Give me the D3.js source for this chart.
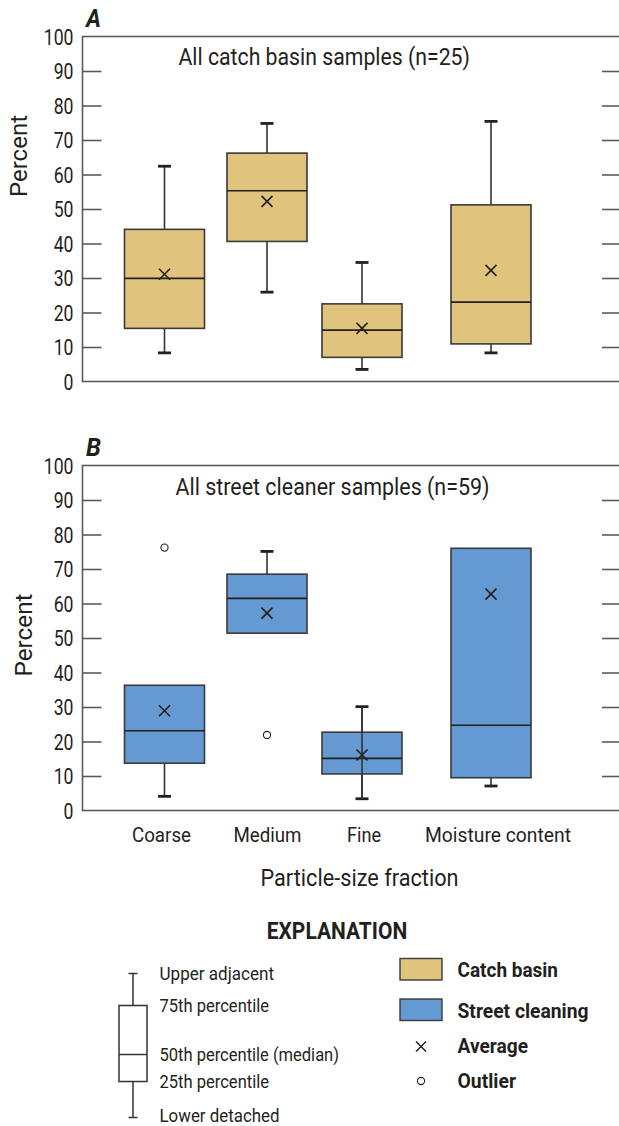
<!DOCTYPE html>
<html><head><meta charset="utf-8">
<script src="https://cdn.jsdelivr.net/npm/d3@7"></script>
<style>
html,body{margin:0;padding:0;background:#fff;}
svg{display:block;}
text{font-family:"Liberation Sans Narrow","Arial Narrow","Roboto",sans-serif;fill:#231f20;}
</style></head>
<body>
<svg id="c" width="619" height="1126"></svg>
<script>
// ---- data ----
const categories = ["Coarse", "Medium", "Fine", "Moisture content"];
const yTicks = [0, 10, 20, 30, 40, 50, 60, 70, 80, 90, 100];

// Panel A: catch basin
const catchLower  = [8.3, 25.9, 3.5, 8.3];
const catchQ1     = [15.4, 40.6, 7.0, 10.9];
const catchMedian = [29.9, 55.3, 14.9, 23.0];
const catchQ3     = [44.1, 66.2, 22.5, 51.2];
const catchUpper  = [62.4, 74.8, 34.5, 75.4];
const catchMean   = [31.1, 52.2, 15.4, 32.2];
const catchOutliers = [[], [], [], []];

// Panel B: street cleaner
const streetLower  = [4.1, null, 3.4, 7.1];
const streetQ1     = [13.7, 51.4, 10.6, 9.5];
const streetMedian = [23.1, 61.5, 15.1, 24.7];
const streetQ3     = [36.3, 68.5, 22.7, 76.0];
const streetUpper  = [null, 75.1, 30.1, null];
const streetMean   = [28.9, 57.2, 16.1, 62.7];
const streetOutliers = [[76.2], [21.9], [], []];

const panelTitles = ["All catch basin samples (n=25)", "All street cleaner samples (n=59)"];
const panelLetters = ["A", "B"];
const legendBoxLabels = ["Upper adjacent", "75th percentile", "50th percentile (median)", "25th percentile", "Lower detached"];
const legendKeyLabels = ["Catch basin", "Street cleaning", "Average", "Outlier"];

// ---- layout ----
const colors = {catch: "#e0c47e", street: "#6499d2"};
const svg = d3.select("#c");
const left = 82.5, right = 620;
const x = d3.scaleOrdinal().domain(categories).range([164.5, 267, 362, 491]);
const boxW = 80, capW = 13;
const labelShift = {"Coarse": -3, "Medium": 0.5, "Fine": 2, "Moisture content": 7};
const labelWidth = {"Coarse": 59, "Medium": 68, "Fine": 34, "Moisture content": 146};

function buildRows(lo, q1, med, q3, up, mean, outl){
  return categories.map((c,i)=>({cat:c, lo:lo[i], q1:q1[i], med:med[i], q3:q3[i], up:up[i], mean:mean[i], out:outl[i]}));
}

const panels = [
  {top: 36.5, bottom: 381.5, rows: buildRows(catchLower, catchQ1, catchMedian, catchQ3, catchUpper, catchMean, catchOutliers), fill: colors.catch, title: panelTitles[0], letter: panelLetters[0], titleX: 324.2, titleW: 291.5, titleY: 65, letterY: 27, pctY: 156, pctX: 27, pctW: 82},
  {top: 465.5, bottom: 810.5, rows: buildRows(streetLower, streetQ1, streetMedian, streetQ3, streetUpper, streetMean, streetOutliers), fill: colors.street, title: panelTitles[1], letter: panelLetters[1], titleX: 332.5, titleW: 314, titleY: 495, letterY: 456, pctY: 635, pctX: 31.5, pctW: 83}
];

const tickSx = 0.8;

panels.forEach(p => {
  const y = d3.scaleLinear().domain([0,100]).range([p.bottom, p.top]);
  const g = svg.append("g");

  // frame
  g.append("rect").attr("x", left).attr("y", y(100)).attr("width", right-left).attr("height", y(0)-y(100))
    .attr("fill","none").attr("stroke","#5a5a5a").attr("stroke-width",1.6);

  // left axis
  const ax = g.append("g").attr("transform",`translate(${left},0)`)
    .call(d3.axisLeft(y).tickValues(yTicks).tickSize(-19).tickPadding(9));
  ax.select(".domain").remove();
  ax.selectAll(".tick line").attr("stroke","#5a5a5a").attr("stroke-width",1.6)
    .attr("display", d => (d===0||d===100)?"none":null);
  ax.selectAll(".tick text").attr("font-size",22).attr("font-family",null).attr("fill","#231f20")
    .attr("x", -9/tickSx).attr("transform", `scale(${tickSx},1)`).attr("dy","0.35em");

  // right axis ticks
  const ax2 = g.append("g").attr("transform",`translate(619,0)`)
    .call(d3.axisRight(y).tickValues(yTicks.filter(d=>d>0&&d<100)).tickSize(-17).tickFormat(""));
  ax2.select(".domain").remove();
  ax2.selectAll(".tick line").attr("stroke","#5a5a5a").attr("stroke-width",1.6);

  const rows = p.rows;
  rows.forEach((r, i) => {
    const cx = x(r.cat);
    const wg = g.append("g");
    if (r.up != null) {
      wg.append("line").attr("x1",cx).attr("x2",cx).attr("y1",y(r.up)).attr("y2",y(r.q3)).attr("stroke","#333").attr("stroke-width",1.6);
      wg.append("line").attr("x1",cx-capW/2).attr("x2",cx+capW/2).attr("y1",y(r.up)).attr("y2",y(r.up)).attr("stroke","#231f20").attr("stroke-width",2.8);
    }
    if (r.lo != null) {
      wg.append("line").attr("x1",cx).attr("x2",cx).attr("y1",y(r.q1)).attr("y2",y(r.lo)).attr("stroke","#333").attr("stroke-width",1.6);
      wg.append("line").attr("x1",cx-capW/2).attr("x2",cx+capW/2).attr("y1",y(r.lo)).attr("y2",y(r.lo)).attr("stroke","#231f20").attr("stroke-width",2.8);
    }
    // box
    g.append("rect").attr("x",cx-boxW/2).attr("y",y(r.q3)).attr("width",boxW).attr("height",y(r.q1)-y(r.q3))
      .attr("fill",p.fill).attr("stroke","#3a3a3a").attr("stroke-width",1.6);
    g.append("line").attr("x1",cx-boxW/2).attr("x2",cx+boxW/2).attr("y1",y(r.med)).attr("y2",y(r.med))
      .attr("stroke","#231f20").attr("stroke-width",1.6);
    // whisker drawn through the box for street-cleaner Fine (as in original)
    if (p.letter==="B" && r.cat==="Fine") {
      g.append("line").attr("x1",cx).attr("x2",cx).attr("y1",y(r.up)).attr("y2",y(r.lo)).attr("stroke","#333").attr("stroke-width",1.6);
    }
    // mean
    const m = 5.5, my = y(r.mean);
    g.append("path").attr("d",`M${cx-m},${my-m}L${cx+m},${my+m}M${cx-m},${my+m}L${cx+m},${my-m}`)
      .attr("stroke","#231f20").attr("stroke-width",1.6);
    // outliers
    r.out.forEach(v => {
      g.append("circle").attr("cx",cx).attr("cy",y(v)).attr("r",3.6).attr("fill","#fff").attr("stroke","#231f20").attr("stroke-width",1.1);
    });
  });

  // title
  g.append("text").attr("x",p.titleX).attr("y",p.titleY).attr("text-anchor","middle").attr("font-size",23)
    .attr("textLength",p.titleW).attr("lengthAdjust","spacingAndGlyphs").text(p.title);
  g.append("text").attr("x",86).attr("y",p.letterY).attr("font-size",25).attr("font-weight","bold").attr("font-style","italic")
    .attr("textLength",15).attr("lengthAdjust","spacingAndGlyphs").text(p.letter);
  g.append("text").attr("transform",`translate(${p.pctX},${p.pctY}) rotate(-90)`).attr("text-anchor","middle").attr("font-size",24)
    .attr("textLength",p.pctW).attr("lengthAdjust","spacingAndGlyphs").text("Percent");
});

// x labels
svg.append("g").selectAll("text").data(categories).join("text")
  .attr("x", d => x(d) + labelShift[d]).attr("y",842).attr("text-anchor","middle").attr("font-size",21)
  .attr("textLength", d => labelWidth[d]).attr("lengthAdjust","spacingAndGlyphs").text(d=>d);
svg.append("text").attr("x",359.5).attr("y",886).attr("text-anchor","middle").attr("font-size",23.5)
  .attr("textLength",198).attr("lengthAdjust","spacingAndGlyphs").text("Particle-size fraction");

// Explanation
svg.append("text").attr("x",337).attr("y",938.5).attr("text-anchor","middle").attr("font-size",23).attr("font-weight","bold")
  .attr("textLength",140.5).attr("lengthAdjust","spacingAndGlyphs").text("EXPLANATION");

// legend box diagram
const lg = svg.append("g");
const lcx = 133;
const lyUp = 973.5, lyQ3 = 1005.5, lyMed = 1054.5, lyQ1 = 1081.5, lyLo = 1117.5;
lg.append("line").attr("x1",lcx).attr("x2",lcx).attr("y1",lyUp).attr("y2",lyLo).attr("stroke","#333").attr("stroke-width",1.5);
lg.append("line").attr("x1",lcx-4.5).attr("x2",lcx+4.5).attr("y1",lyUp).attr("y2",lyUp).attr("stroke","#333").attr("stroke-width",1.5);
lg.append("line").attr("x1",lcx-4.5).attr("x2",lcx+4.5).attr("y1",lyLo).attr("y2",lyLo).attr("stroke","#333").attr("stroke-width",1.5);
lg.append("rect").attr("x",119).attr("y",lyQ3).attr("width",28).attr("height",lyQ1-lyQ3).attr("fill","#fff").attr("stroke","#333").attr("stroke-width",1.5);
lg.append("line").attr("x1",119).attr("x2",147).attr("y1",lyMed).attr("y2",lyMed).attr("stroke","#333").attr("stroke-width",1.5);
const lbY = [979.5, 1012, 1061, 1088, 1122];
const lbW = [114.5, 109.5, 179.5, 109.5, 120];
lg.selectAll("text.bl").data(legendBoxLabels).join("text").attr("class","bl")
  .attr("x",159.5).attr("y",(d,i)=>lbY[i]).attr("font-size",19)
  .attr("textLength",(d,i)=>lbW[i]).attr("lengthAdjust","spacingAndGlyphs").text(d=>d);

// key
const kY = [977, 1017.5, 1053, 1088];
const kW = [100.5, 131, 70.5, 58.5];
const kg = svg.append("g");
kg.append("rect").attr("x",400).attr("y",958.5).attr("width",42).attr("height",21.5).attr("fill",colors.catch).attr("stroke","#3a3a3a").attr("stroke-width",1.4);
kg.append("rect").attr("x",400).attr("y",999).attr("width",42).attr("height",21.5).attr("fill",colors.street).attr("stroke","#3a3a3a").attr("stroke-width",1.4);
kg.append("path").attr("d","M416,1041.5L426,1051.5M416,1051.5L426,1041.5").attr("stroke","#231f20").attr("stroke-width",1.5);
kg.append("circle").attr("cx",421).attr("cy",1081).attr("r",3.6).attr("fill","#fff").attr("stroke","#231f20").attr("stroke-width",1.1);
kg.selectAll("text").data(legendKeyLabels).join("text")
  .attr("x",457.5).attr("y",(d,i)=>kY[i]).attr("font-size",21).attr("font-weight","bold")
  .attr("textLength",(d,i)=>kW[i]).attr("lengthAdjust","spacingAndGlyphs").text(d=>d);
</script>
</body></html>
